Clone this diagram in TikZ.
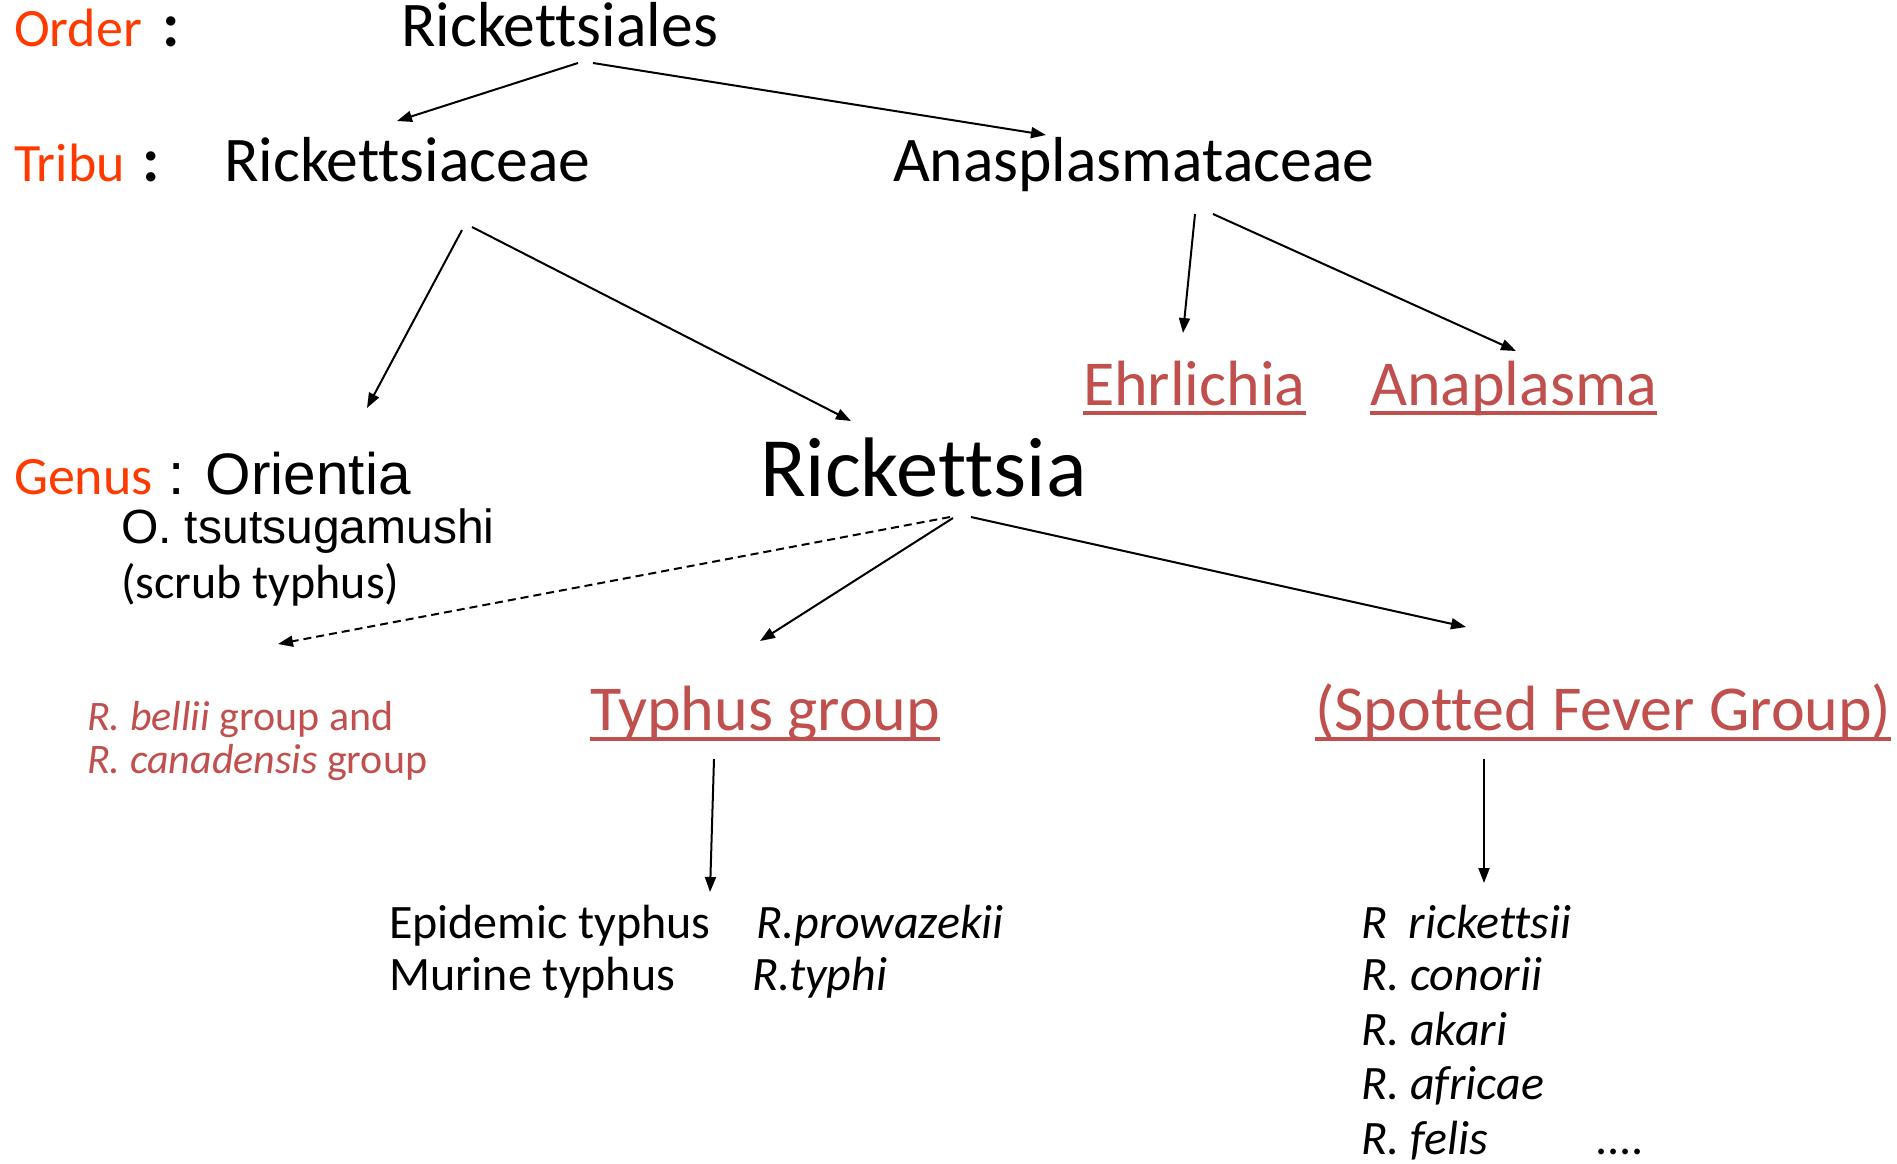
\documentclass[tikz,border=0pt]{standalone}
\usepackage{fontspec}
\setmainfont{Carlito}[RawFeature={-liga}]
\newfontfamily\arialf{Liberation Sans}
\usetikzlibrary{arrows.meta}
\definecolor{lab}{RGB}{255,58,0}
\definecolor{lnk}{RGB}{192,80,77}
\tikzset{
  txt/.style={inner sep=0pt, outer sep=0pt, anchor=base west},
  lbl/.style={txt, text=lab, font=\fontsize{54}{60}\selectfont},
  colon/.style={txt, font=\bfseries\fontsize{63}{70}\selectfont},
  mid/.style={txt, font=\fontsize{63.6}{70}\selectfont},
  huge/.style={txt, font=\fontsize{84.5}{90}\selectfont},
  lnkt/.style={txt, text=lnk, font=\fontsize{64}{70}\selectfont},
  sm/.style={txt, font=\fontsize{48}{56}\selectfont},
  smi/.style={txt, font=\fontsize{48}{56}\selectfont\itshape},
  ari/.style={txt, font=\arialf\fontsize{48}{56}\selectfont},
  arib/.style={txt, font=\arialf\fontsize{58.5}{66}\selectfont},
  bel/.style={txt, text=lnk, font=\fontsize{42}{50}\selectfont},
  conn/.style={line width=2pt, -{Triangle[length=15pt,width=11pt]}},
  dconn/.style={conn, dash pattern=on 8pt off 5pt},
  uline/.style={draw=lnk, line width=3.5pt}
}
\begin{document}
\begin{tikzpicture}[x=1pt,y=-1pt]
\useasboundingbox (0,0) rectangle (1897,1163);
% labels
\node[lbl] (order) at (14,46) {Order};
\node[colon] (ordc) at (162,46) {:};
\node[lbl] (tribu) at (14,181) {Tribu};
\node[colon] (tribc) at (142,181) {:};
\node[lbl] (genus) at (14,494) {Genus};
% taxa
\node[mid] (rales) at (401,46) {Rickettsiales};
\node[mid] (raceae) at (224,181) {Rickettsiaceae};
\node[mid] (anas) at (893,181) {Anasplasmataceae};
\node[lnkt] (ehr) at (1083,405) {Ehrlichia};
\node[lnkt] (ana) at (1370,405) {Anaplasma};
\node[arib] (orient) at (168,494) {: Orientia};
\node[huge] (rick) at (760,496) {Rickettsia};
\node[ari] (otsu) at (121,543) {O. tsutsugamushi};
\node[sm] (scrub) at (121,598) {(scrub typhus)};
\node[bel] (bel1) at (87,730) {\textit{R. bellii} group and};
\node[bel] (bel2) at (87,773) {\textit{R. canadensis} group};
\node[lnkt] (typh) at (590,730) {Typhus group};
\node[lnkt] (spot) at (1315,730) {(Spotted Fever Group)};
\node[sm] (epi) at (389,938) {Epidemic typhus};
\node[smi] (prow) at (756,938) {R.prowazekii};
\node[sm] (mur) at (389,990) {Murine typhus};
\node[smi] (typhi) at (752,990) {R.typhi};
\node[smi] (rr1) at (1361,938) {R~ rickettsii};
\node[smi] (rr2) at (1361,990) {R. conorii};
\node[smi] (rr3) at (1361,1045) {R. akari};
\node[smi] (rr4) at (1361,1099) {R. africae};
\node[smi] (rr5) at (1361,1154) {R. felis};
\node[smi] (dots) at (1596,1154) {....};
% underlines
\draw[uline] ([yshift=-8pt]ehr.base west) -- ([yshift=-8pt]ehr.base east);
\draw[uline] ([yshift=-8pt]ana.base west) -- ([yshift=-8pt]ana.base east);
\draw[uline] ([yshift=-9pt]typh.base west) -- ([yshift=-9pt]typh.base east);
\draw[uline] ([yshift=-9pt]spot.base west) -- ([yshift=-9pt]spot.base east);
% connector endpoints
\coordinate (a1s) at (578,63);   \coordinate (a1e) at (397,121);
\coordinate (a2s) at (593,63);   \coordinate (a2e) at (1046,135);
\coordinate (a3s) at (462,230);  \coordinate (a3e) at (367,408);
\coordinate (a4s) at (472,227);  \coordinate (a4e) at (851,421);
\coordinate (a5s) at (1195,214); \coordinate (a5e) at (1183,333);
\coordinate (a6s) at (1213,214); \coordinate (a6e) at (1516,351);
\coordinate (a7s) at (950,517);  \coordinate (a7e) at (278,644);
\coordinate (a8s) at (953,518);  \coordinate (a8e) at (760,641);
\coordinate (a9s) at (971,517);  \coordinate (a9e) at (1466,627);
\coordinate (a10s) at (714,759); \coordinate (a10e) at (710,892);
\coordinate (a11s) at (1484,759);\coordinate (a11e) at (1484,883);
\draw[conn] (a1s) -- (a1e);
\draw[conn] (a2s) -- (a2e);
\draw[conn] (a3s) -- (a3e);
\draw[conn] (a4s) -- (a4e);
\draw[conn] (a5s) -- (a5e);
\draw[conn] (a6s) -- (a6e);
\draw[dconn] (a7s) -- (a7e);
\draw[conn] (a8s) -- (a8e);
\draw[conn] (a9s) -- (a9e);
\draw[conn] (a10s) -- (a10e);
\draw[conn] (a11s) -- (a11e);
\end{tikzpicture}
\end{document}
